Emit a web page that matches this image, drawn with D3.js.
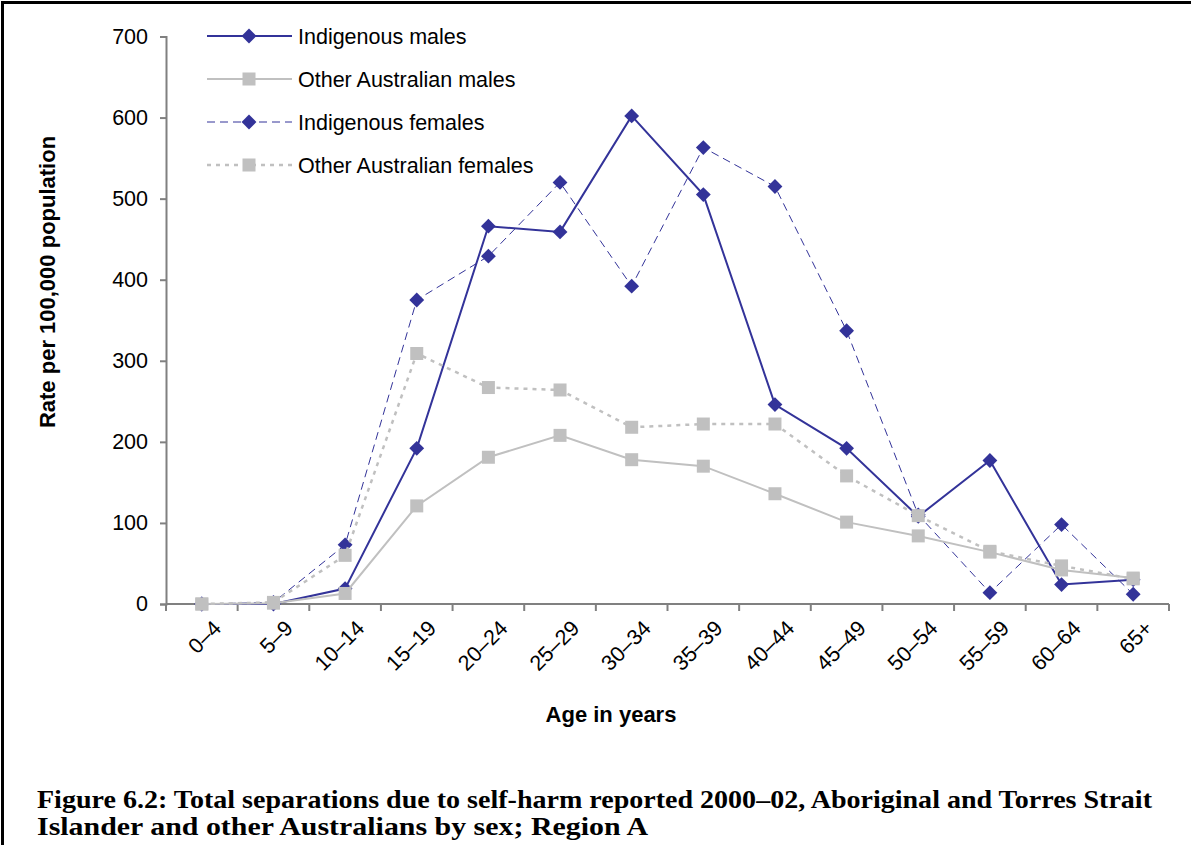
<!DOCTYPE html>
<html>
<head>
<meta charset="utf-8">
<script src="https://cdn.jsdelivr.net/npm/d3@7"></script>
<style>
  html, body { margin: 0; padding: 0; background: #fff; }
  svg { display: block; }
</style>
</head>
<body>
<svg id="chart" width="1191" height="845"></svg>
<script>
// Age groups along the x axis
const ageGroups = ["0–4", "5–9", "10–14", "15–19", "20–24", "25–29", "30–34",
                   "35–39", "40–44", "45–49", "50–54", "55–59", "60–64", "65+"];

// Separation rates per 100,000 population
const indigenousMales       = [0, 0, 19, 192, 466, 459, 602, 505, 246, 192, 108, 177, 24, 30];
const otherAustralianMales  = [0, 1, 13, 121, 181, 208, 178, 170, 136, 101, 84, 64, 42, 32];
const indigenousFemales     = [0, 2, 73, 375, 429, 520, 392, 563, 515, 337, 110, 14, 98, 12];
const otherAustralianFemales= [0, 2, 60, 309, 267, 264, 218, 222, 222, 158, 109, 65, 47, 31];

const yTicks = [0, 100, 200, 300, 400, 500, 600, 700];

const navy = "#333399";
const grey = "#c0c0c0";

const series = [
  { name: "Indigenous males",         values: indigenousMales,        color: navy, width: 2,   dash: null,  marker: "diamond" },
  { name: "Other Australian males",   values: otherAustralianMales,   color: grey, width: 2,   dash: null,  marker: "square" },
  { name: "Indigenous females",       values: indigenousFemales,      color: navy, width: 1,   dash: "8,5", marker: "diamond" },
  { name: "Other Australian females", values: otherAustralianFemales, color: grey, width: 2.5, dash: "4,5", marker: "square" }
];

const svg = d3.select("#chart");
const font = "'Liberation Sans', Arial, sans-serif";

// Frame around the figure
svg.append("rect")
  .attr("x", 2.5).attr("y", 2.5).attr("width", 1200).attr("height", 900)
  .attr("fill", "none").attr("stroke", "#000").attr("stroke-width", 3);

const plot = { left: 166, right: 1169, top: 36.5, bottom: 604 };

const x = d3.scaleBand().domain(ageGroups).range([plot.left, plot.right]);
const y = d3.scaleLinear().domain([0, 700]).range([plot.bottom, plot.top]);
const cx = d => x(d) + x.bandwidth() / 2;

// Y axis
const yAxis = svg.append("g")
  .attr("transform", `translate(${plot.left},0)`)
  .call(d3.axisLeft(y).tickValues(yTicks).tickSize(6).tickPadding(12).tickFormat(d3.format("d")));
yAxis.select(".domain").attr("stroke", "#808080").attr("stroke-width", 2);
yAxis.selectAll(".tick line").attr("stroke", "#808080").attr("stroke-width", 2);
yAxis.selectAll(".tick text")
  .attr("font-family", font).attr("font-size", 21.5).attr("fill", "#000");

// X axis: ticks at the group boundaries, labels rotated under each group
const xAxis = svg.append("g")
  .attr("transform", `translate(0,${plot.bottom})`);
xAxis.append("line")
  .attr("x1", plot.left).attr("x2", plot.right)
  .attr("stroke", "#808080").attr("stroke-width", 2);
const boundaries = ageGroups.map(d => x(d)).concat([x.range()[1]]);
xAxis.selectAll("line.tick")
  .data(boundaries)
  .join("line")
  .attr("class", "tick")
  .attr("x1", d => d).attr("x2", d => d)
  .attr("y1", 0).attr("y2", 7)
  .attr("stroke", "#808080").attr("stroke-width", 2);
xAxis.selectAll("text.label")
  .data(ageGroups)
  .join("text")
  .attr("class", "label")
  .attr("transform", d => `translate(${cx(d) + 10},${15}) rotate(-45)`)
  .attr("text-anchor", "end")
  .attr("dy", "0.7em")
  .attr("font-family", font).attr("font-size", 21.5).attr("fill", "#000")
  .text(d => d);

// Axis titles
svg.append("text")
  .attr("transform", "translate(55,282) rotate(-90)")
  .attr("text-anchor", "middle")
  .attr("font-family", font).attr("font-size", 22).attr("font-weight", "bold")
  .text("Rate per 100,000 population");

svg.append("text")
  .attr("x", 611).attr("y", 722)
  .attr("text-anchor", "middle")
  .attr("font-family", font).attr("font-size", 22).attr("font-weight", "bold")
  .text("Age in years");

// Marker shapes
const diamond = d3.symbol().type(d3.symbolSquare).size(110)();
function drawMarker(g, kind, color) {
  if (kind === "diamond") {
    g.append("path").attr("d", diamond).attr("transform", "rotate(45)").attr("fill", color);
  } else {
    g.append("rect").attr("x", -6.5).attr("y", -6.5).attr("width", 13).attr("height", 13).attr("fill", color);
  }
}

// Series lines and markers
const line = d3.line().x((d, i) => cx(ageGroups[i])).y(d => y(d));
const order = [2, 0, 1, 3];
order.forEach(k => {
  const s = series[k];
  const g = svg.append("g");
  g.append("path")
    .attr("d", line(s.values))
    .attr("fill", "none")
    .attr("stroke", s.color)
    .attr("stroke-width", s.width)
    .attr("stroke-dasharray", s.dash);
  g.selectAll("g.pt")
    .data(s.values)
    .join("g")
    .attr("class", "pt")
    .attr("transform", (d, i) => `translate(${cx(ageGroups[i])},${y(d)})`)
    .each(function () { drawMarker(d3.select(this), s.marker, s.color); });
});

// Legend
const legend = svg.append("g");
series.forEach((s, i) => {
  const ly = 36 + i * 43;
  const row = legend.append("g").attr("transform", `translate(0,${ly})`);
  row.append("line")
    .attr("x1", 207).attr("x2", 292)
    .attr("stroke", s.color).attr("stroke-width", s.width)
    .attr("stroke-dasharray", s.dash);
  const m = row.append("g").attr("transform", "translate(249,0)");
  drawMarker(m, s.marker, s.color);
  row.append("text")
    .attr("x", 298).attr("y", 0).attr("dy", "0.35em")
    .attr("font-family", font).attr("font-size", 21.5)
    .text(s.name);
});

// Figure caption (two lines, fitted to the printed line widths)
const captionLines = [
  { text: "Figure 6.2: Total separations due to self-harm reported 2000–02, Aboriginal and Torres Strait", y: 808, width: 1115 },
  { text: "Islander and other Australians by sex; Region A", y: 835, width: 611 }
];
captionLines.forEach(c => {
  svg.append("text")
    .attr("x", 37).attr("y", c.y)
    .attr("font-family", "'Liberation Serif', 'Times New Roman', serif")
    .attr("font-weight", "bold").attr("font-size", 24.5)
    .attr("textLength", c.width)
    .attr("lengthAdjust", "spacingAndGlyphs")
    .text(c.text);
});
</script>
</body>
</html>
